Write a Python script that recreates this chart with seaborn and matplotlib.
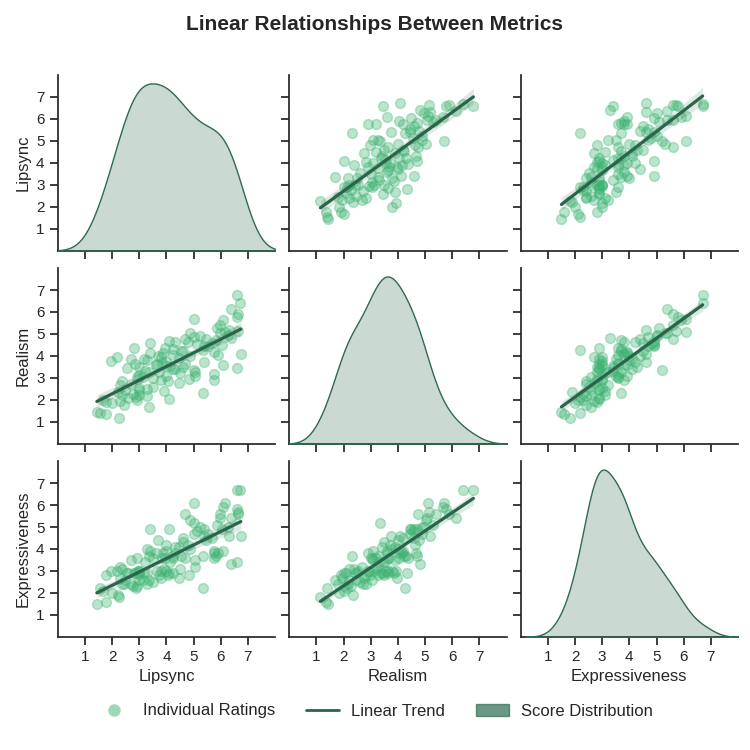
import numpy as np
import pandas as pd
import matplotlib.pyplot as plt
import seaborn as sns
from matplotlib.lines import Line2D
from matplotlib.patches import Patch

# Ratings (one entry per rated clip)
realism = [1.15, 1.34, 1.4, 1.44, 1.68, 1.84, 1.9, 2.0, 2.03, 2.15, 2.09, 2.21, 2.28, 2.31, 2.34,
           2.46, 2.55, 2.59, 2.69, 2.75, 2.84, 2.9, 2.93, 2.96, 3.03, 3.09, 3.13, 3.19, 3.21, 3.25,
           3.28, 3.34, 3.38, 3.44, 3.46, 3.5, 3.55, 3.59, 3.63, 3.65, 3.68, 3.74, 3.78, 3.84, 3.88,
           3.93, 3.96, 4.0, 4.03, 4.05, 4.09, 4.13, 4.18, 4.21, 4.28, 4.34, 4.38, 4.43, 4.5, 4.55,
           4.59, 4.6, 4.65, 4.69, 4.71, 4.75, 4.78, 4.81, 4.88, 4.96, 5.03, 5.06, 5.15, 5.18, 5.28,
           5.65, 5.7, 5.78, 5.9, 6.15, 6.4, 6.78, 1.78, 1.96, 2.13, 2.43, 2.84, 3.03, 3.28, 3.53,
           3.63, 3.9, 4.15, 4.3, 4.46, 4.63, 4.9, 5.1, 5.4,
           2.2, 2.5, 2.7, 3.0, 3.1, 3.3, 3.4, 3.6, 3.7, 3.8, 2.4, 2.0, 4.0, 4.2, 2.9, 3.5]
lipsync = [2.26, 1.77, 1.55, 1.44, 3.36, 2.0, 1.77, 1.67, 4.09, 3.29, 2.6, 2.38, 2.76, 5.36, 2.23,
           2.48, 2.98, 3.52, 2.3, 4.45, 2.38, 5.76, 2.94, 4.83, 3.14, 5.06, 2.98, 5.76, 4.5, 3.74,
           3.36, 5.0, 4.24, 2.56, 6.58, 2.98, 3.97, 6.09, 4.7, 2.83, 3.82, 5.39, 1.97, 3.18, 2.68,
           2.18, 3.79, 4.85, 4.24, 5.89, 6.74, 3.39, 5.76, 4.53, 5.36, 2.79, 3.94, 5.52, 6.06, 5.11,
           5.67, 3.39, 4.3, 4.09, 5.82, 4.7, 5.45, 6.39, 5.03, 6.27, 4.85, 5.97, 6.65, 6.32, 5.86,
           6.09, 5.0, 6.58, 6.65, 6.36, 6.7, 6.58, 2.45, 2.3, 2.88, 2.98, 4.05, 2.91, 5.06, 4.12,
           3.67, 4.45, 3.89, 4.24, 5.39, 4.79, 5.24, 6.15, 5.97,
           3.0, 3.3, 2.7, 3.5, 4.0, 3.2, 4.3, 3.6, 4.0, 3.3, 3.9, 2.9, 3.7, 4.6, 3.8, 4.6]
expressiveness = [1.8, 1.6, 2.2, 1.5, 2.6, 2.0, 2.8, 2.1, 2.9, 2.4, 2.9, 3.1, 2.3, 3.7, 1.9,
                  2.6, 3.0, 2.5, 3.2, 2.7, 2.4, 3.8, 3.0, 2.8, 2.6, 3.5, 3.0, 3.6, 3.1, 2.8,
                  3.7, 5.2, 2.9, 2.9, 3.4, 2.8, 3.0, 3.9, 3.6, 2.9, 3.6, 4.6, 3.0, 2.9, 3.5,
                  3.0, 2.7, 4.0, 3.6, 3.8, 4.6, 3.9, 3.9, 3.7, 2.2, 2.9, 3.6, 4.7, 4.9, 4.8,
                  4.5, 4.9, 3.8, 4.9, 3.7, 5.6, 4.4, 3.3, 4.7, 5.0, 5.3, 5.4, 5.7, 4.6, 5.1,
                  5.9, 6.1, 5.8, 5.6, 5.4, 6.7, 6.7, 2.4, 2.7, 2.2, 2.9, 2.8, 3.6, 3.2, 3.4,
                  3.0, 4.1, 3.8, 3.7, 4.9, 4.2, 5.0, 6.1, 5.6,
                  2.6, 2.9, 2.4, 3.6, 3.9, 3.4, 4.1, 3.8, 4.2, 4.0, 3.1, 2.3, 4.4, 4.5, 3.0, 4.3]

df = pd.DataFrame({"Lipsync": lipsync, "Realism": realism, "Expressiveness": expressiveness})

point_color = "#3cb371"
line_color = "#2a6549"
dist_color = "#2e6b4f"

sns.set_theme(style="ticks")
plt.rcParams["font.family"] = ["Arial", "Liberation Sans", "DejaVu Sans"]

g = sns.pairplot(
    df,
    kind="reg",
    diag_kind="kde",
    height=2.5,
    plot_kws={
        "color": point_color,
        "scatter_kws": {"alpha": 0.35, "s": 50},
        "line_kws": {"color": line_color, "linewidth": 2.3},
    },
    diag_kws={"fill": True, "color": dist_color, "alpha": 0.25, "linewidth": 1},
)

g.figure.set_size_inches(7.5, 7.5)
for ax in g.axes.flat:
    ax.set_xlim(0, 8)
    ax.set_xticks(range(1, 8))
    ax.tick_params(labelsize=11)
for i in range(3):
    g.axes[i, 0].set_ylim(0, 8)
    g.axes[i, 0].set_yticks(range(1, 8))
    for j in range(3):
        if i != j:
            g.axes[i, j].set_ylim(0, 8)
        g.axes[i, j].xaxis.label.set_size(12)
        g.axes[i, j].yaxis.label.set_size(12)

g.figure.subplots_adjust(left=0.077, right=0.984, top=0.9, bottom=0.151, wspace=0.065, hspace=0.1)
g.figure.suptitle("Linear Relationships Between Metrics", fontsize=15, fontweight="bold", y=0.98)

handles = [
    Line2D([], [], marker="o", linestyle="none", markersize=9, color=point_color, alpha=0.5,
           markeredgecolor="none", label="Individual Ratings"),
    Line2D([], [], color=line_color, linewidth=2, label="Linear Trend"),
    Patch(facecolor=dist_color, alpha=0.7, edgecolor=dist_color, label="Score Distribution"),
]
g.figure.legend(handles=handles, loc="center", bbox_to_anchor=(0.5, 0.052), ncol=3,
                frameon=False, fontsize=12, columnspacing=1.85, handletextpad=0.72)

g.figure.savefig("out.png", dpi=100)
